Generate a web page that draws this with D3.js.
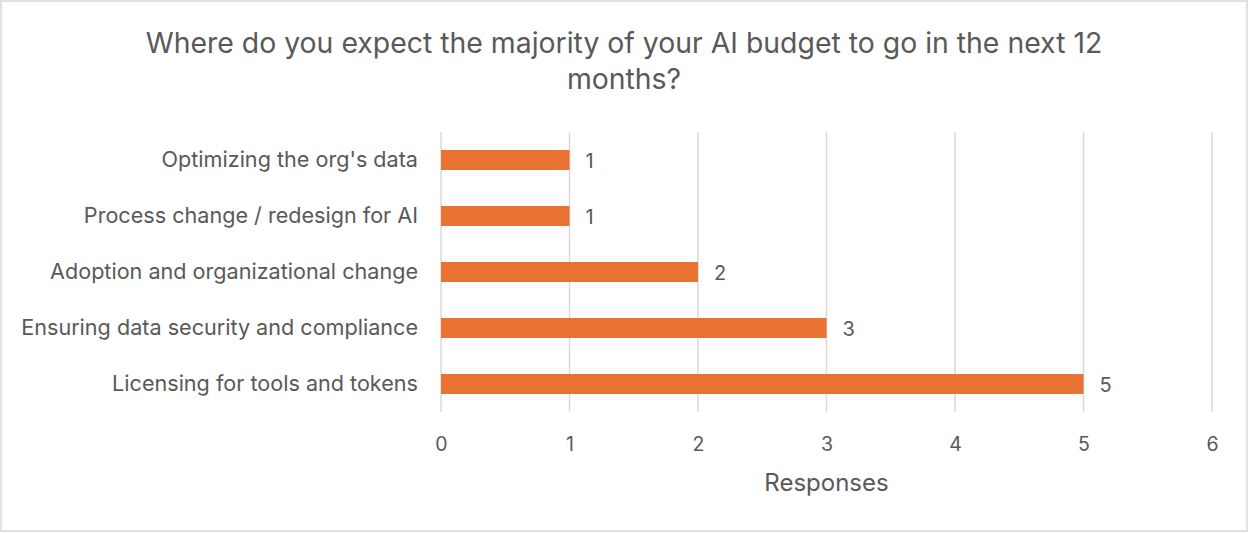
<!DOCTYPE html>
<html>
<head>
<meta charset="utf-8">
<script src="https://cdn.jsdelivr.net/npm/d3@7"></script>
<style>
  body { margin: 0; background: #fff; }
  text { font-family: Inter, "Open Sans", sans-serif; fill: #595959; }
</style>
</head>
<body>
<svg class="barchart" width="1249" height="533"></svg>
<script>
// data
var categories = [
  "Optimizing the org's data",
  "Process change / redesign for AI",
  "Adoption and organizational change",
  "Ensuring data security and compliance",
  "Licensing for tools and tokens"
];
var responses = [1, 1, 2, 3, 5];
var xTicks = [0, 1, 2, 3, 4, 5, 6];
var titleLines = [
  "Where do you expect the majority of your AI budget to go in the next 12",
  "months?"
];

var svg = d3.select(".barchart"),
  plotLeft = 441,
  plotRight = 1212,
  plotTop = 132,
  plotBottom = 412;

// chart border
svg.append("rect")
  .attr("x", 1).attr("y", 1)
  .attr("width", 1246).attr("height", 530)
  .attr("fill", "#fff")
  .attr("stroke", "#d9d9d9")
  .attr("stroke-width", 1.5);

var xScale = d3.scaleLinear().domain([0, 6]).range([plotLeft, plotRight]),
  yScale = d3.scaleBand().domain(categories).range([plotTop, plotBottom])
    .paddingInner(0.643).paddingOuter(0.3215);

// title
svg.append("g").selectAll("text")
  .data(titleLines)
  .join("text")
  .attr("x", 624)
  .attr("y", function (d, i) { return 53 + i * 36; })
  .attr("text-anchor", "middle")
  .attr("font-size", 28.4)
  .text(function (d) { return d; });

// gridlines
svg.append("g").selectAll("line")
  .data(xTicks)
  .join("line")
  .attr("x1", function (d) { return xScale(d); })
  .attr("x2", function (d) { return xScale(d); })
  .attr("y1", plotTop)
  .attr("y2", plotBottom)
  .attr("stroke", "#d9d9d9")
  .attr("stroke-width", 1.5);

// x axis labels
var xAxis = svg.append("g")
  .attr("transform", "translate(0," + plotBottom + ")")
  .call(d3.axisBottom(xScale).tickValues(xTicks).tickFormat(d3.format("d"))
    .tickSize(0).tickPadding(25));
xAxis.select(".domain").remove();
xAxis.selectAll("text")
  .attr("font-size", 19.5)
  .style("font-family", "Inter, 'Open Sans', sans-serif")
  .attr("fill", "#595959");

// y axis labels
var yAxis = svg.append("g")
  .attr("transform", "translate(" + (plotLeft - 23) + ",0)")
  .call(d3.axisLeft(yScale).tickSize(0).tickPadding(0));
yAxis.select(".domain").remove();
yAxis.selectAll("text")
  .attr("font-size", 21.6)
  .style("font-family", "Inter, 'Open Sans', sans-serif")
  .attr("fill", "#595959");

// bars
svg.append("g").selectAll("rect")
  .data(responses)
  .join("rect")
  .attr("x", xScale(0))
  .attr("y", function (d, i) { return yScale(categories[i]); })
  .attr("width", function (d) { return xScale(d) - xScale(0); })
  .attr("height", yScale.bandwidth())
  .attr("fill", "#e97132");

// value labels
svg.append("g").selectAll("text")
  .data(responses)
  .join("text")
  .attr("x", function (d) { return xScale(d) + 16; })
  .attr("y", function (d, i) { return yScale(categories[i]) + yScale.bandwidth() / 2; })
  .attr("dy", "0.38em")
  .attr("font-size", 20)
  .text(function (d) { return d; });

// axis title
svg.append("text")
  .attr("x", xScale(3))
  .attr("y", 491)
  .attr("text-anchor", "middle")
  .attr("font-size", 24)
  .text("Responses");
</script>
</body>
</html>
